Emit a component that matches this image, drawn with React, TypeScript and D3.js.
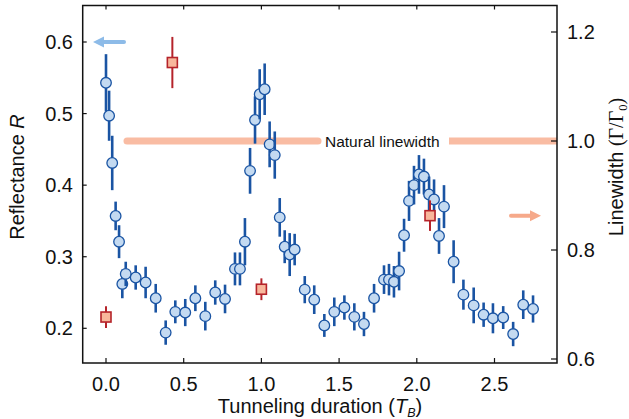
import React from "react";
import * as d3 from "d3";

const reflT = [0.0, 0.02, 0.04, 0.062, 0.084, 0.105, 0.127, 0.191, 0.255, 0.32, 0.384, 0.446, 0.51, 0.575, 0.639, 0.703, 0.766, 0.83, 0.862, 0.894, 0.927, 0.959, 0.989, 1.021, 1.053, 1.086, 1.118, 1.15, 1.182, 1.214, 1.279, 1.34, 1.405, 1.469, 1.534, 1.598, 1.66, 1.725, 1.789, 1.821, 1.853, 1.886, 1.918, 1.95, 1.982, 2.014, 2.046, 2.079, 2.111, 2.143, 2.175, 2.237, 2.3, 2.366, 2.43, 2.49, 2.556, 2.62, 2.685, 2.748];
const reflR = [0.543, 0.497, 0.431, 0.357, 0.321, 0.262, 0.276, 0.271, 0.264, 0.242, 0.194, 0.223, 0.222, 0.242, 0.217, 0.25, 0.241, 0.283, 0.283, 0.321, 0.42, 0.491, 0.527, 0.534, 0.457, 0.442, 0.355, 0.314, 0.303, 0.31, 0.254, 0.24, 0.204, 0.223, 0.229, 0.216, 0.206, 0.242, 0.268, 0.268, 0.265, 0.28, 0.33, 0.378, 0.4, 0.415, 0.412, 0.387, 0.38, 0.329, 0.37, 0.293, 0.247, 0.232, 0.219, 0.214, 0.215, 0.192, 0.233, 0.227];
const reflErr = [0.04, 0.035, 0.038, 0.02, 0.023, 0.02, 0.017, 0.017, 0.022, 0.02, 0.017, 0.016, 0.019, 0.018, 0.02, 0.017, 0.02, 0.023, 0.023, 0.033, 0.032, 0.033, 0.035, 0.036, 0.032, 0.033, 0.027, 0.023, 0.03, 0.022, 0.019, 0.02, 0.016, 0.02, 0.017, 0.019, 0.017, 0.02, 0.02, 0.022, 0.022, 0.027, 0.023, 0.028, 0.027, 0.027, 0.025, 0.025, 0.028, 0.025, 0.03, 0.03, 0.021, 0.025, 0.017, 0.021, 0.016, 0.017, 0.02, 0.019];

const lwT = [0.0, 0.427, 1.0, 2.085];
const lwVal = [0.677, 1.144, 0.728, 0.863];
const lwErr = [0.02, 0.047, 0.02, 0.028];

const xTicks = [0, 0.5, 1.0, 1.5, 2.0, 2.5];
const yLeftTicks = [0.2, 0.3, 0.4, 0.5, 0.6];
const yRightTicks = [0.6, 0.8, 1.0, 1.2];

const naturalLinewidth = 1.0;

const FONT = "'Liberation Sans', Arial, Helvetica, sans-serif";

export default function App() {
  const left = 82.7, right = 557, top = 5.5, bottom = 363;
  const x = d3.scaleLinear().domain([0, 2.5]).range([106, 494.5]);
  const yL = d3.scaleLinear().domain([0.2, 0.6]).range([328.3, 42]);
  const yR = d3.scaleLinear().domain([0.6, 1.2]).range([359, 32]);

  const blueBar = "#1a54a3";
  const blueFill = "#c4daf1";
  const redC = "#b5232a";
  const redFill = "#f8b79c";
  const band = "#f9bca3";

  const nlY = yR(naturalLinewidth);

  return (
    <svg width={629} height={419} style={{ position: "absolute", left: 0, top: 0 }} fontFamily={FONT}>
      <rect x={0} y={0} width={629} height={419} fill="white" />
      {/* natural linewidth band */}
      <line x1={127} x2={318} y1={nlY} y2={nlY} stroke={band} strokeWidth={7} strokeLinecap="round" />
      <line x1={449} x2={right} y1={nlY} y2={nlY} stroke={band} strokeWidth={7} />
      <text x={325} y={nlY + 5.5} fontSize={15.5} fill="#111">Natural linewidth</text>

      {/* arrows */}
      <line x1={124} x2={100} y1={yL(0.6)} y2={yL(0.6)} stroke="#8dbbe8" strokeWidth={4} strokeLinecap="round" />
      <path d={`M${93},${yL(0.6)} L${104},${yL(0.6) - 5.5} L${104},${yL(0.6) + 5.5} Z`} fill="#8dbbe8" />
      <line x1={511} x2={532} y1={215.7} y2={215.7} stroke="#f6a98a" strokeWidth={4} strokeLinecap="round" />
      <path d={`M${541},${215.7} L${530},${215.7 - 5.5} L${530},${215.7 + 5.5} Z`} fill="#f6a98a" />

      {/* reflectance points */}
      {reflT.map((t, i) => (
        <g key={"r" + i}>
          <line x1={x(t)} x2={x(t)} y1={yL(reflR[i] - reflErr[i])} y2={yL(reflR[i] + reflErr[i])} stroke={blueBar} strokeWidth={2.6} />
          <circle cx={x(t)} cy={yL(reflR[i])} r={5.3} fill={blueFill} stroke={blueBar} strokeWidth={1.3} />
        </g>
      ))}

      {/* linewidth points */}
      {lwT.map((t, i) => (
        <g key={"l" + i}>
          <line x1={x(t)} x2={x(t)} y1={yR(lwVal[i] - lwErr[i])} y2={yR(lwVal[i] + lwErr[i])} stroke={redC} strokeWidth={2} />
          <rect x={x(t) - 5} y={yR(lwVal[i]) - 5} width={10} height={10} fill={redFill} stroke={redC} strokeWidth={1.6} />
        </g>
      ))}

      {/* frame */}
      <rect x={left} y={top} width={right - left} height={bottom - top} fill="none" stroke="#111" strokeWidth={1.5} />

      {/* x ticks */}
      {xTicks.map((t) => (
        <g key={"x" + t}>
          <line x1={x(t)} x2={x(t)} y1={bottom} y2={bottom - 5} stroke="#111" strokeWidth={1.2} />
          <line x1={x(t)} x2={x(t)} y1={top} y2={top + 4} stroke="#111" strokeWidth={1.2} />
          <text x={x(t)} y={391} fontSize={20} textAnchor="middle" fill="#111">{t.toFixed(1)}</text>
        </g>
      ))}
      {/* left ticks */}
      {yLeftTicks.map((v) => (
        <g key={"yl" + v}>
          <line x1={left} x2={left + 4} y1={yL(v)} y2={yL(v)} stroke="#111" strokeWidth={1.2} />
          <text x={73} y={yL(v) + 7} fontSize={20} textAnchor="end" fill="#111">{v.toFixed(1)}</text>
        </g>
      ))}
      {/* right ticks */}
      {yRightTicks.map((v) => (
        <g key={"yr" + v}>
          <line x1={right} x2={right - 6} y1={yR(v)} y2={yR(v)} stroke="#111" strokeWidth={1.2} />
          <text x={567} y={yR(v) + 7} fontSize={20} textAnchor="start" fill="#111">{v.toFixed(1)}</text>
        </g>
      ))}

      {/* axis titles */}
      <text x={320} y={413} fontSize={20} textAnchor="middle" fill="#111">
        Tunneling duration (<tspan fontStyle="italic">T</tspan><tspan fontStyle="italic" fontSize={12.5} dy={4}>B</tspan><tspan dy={-4}>)</tspan>
      </text>
      <text transform={`translate(24,177) rotate(-90)`} fontSize={20} textAnchor="middle" fill="#111">
        Reflectance <tspan fontStyle="italic">R</tspan>
      </text>
      <text transform={`translate(623,167) rotate(-90)`} fontSize={20} textAnchor="middle" fill="#111">
        Linewidth <tspan fontFamily="'Liberation Serif', 'DejaVu Serif', serif">(Γ/Γ</tspan><tspan fontFamily="'Liberation Serif', serif" fontSize={12.5} dy={4}>0</tspan><tspan fontFamily="'Liberation Serif', serif" dy={-4}>)</tspan>
      </text>
    </svg>
  );
}
